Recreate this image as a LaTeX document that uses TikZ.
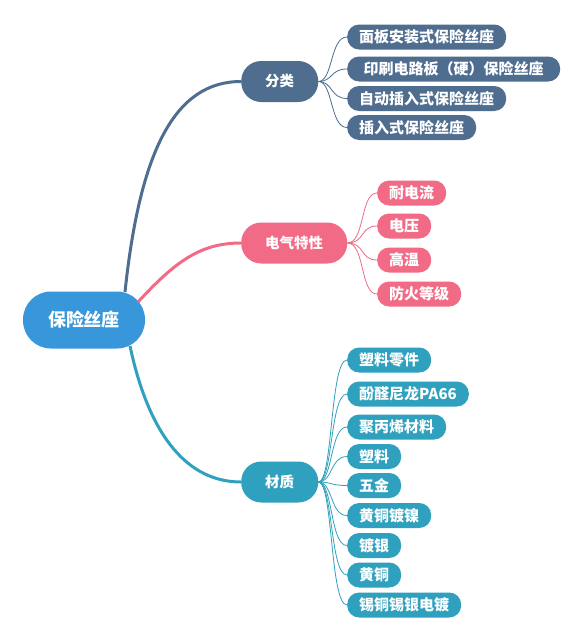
\documentclass[tikz,border=0pt]{standalone}
\usepackage{fontspec}
\setmainfont{Noto Sans CJK SC}
\definecolor{rootc}{HTML}{3897DA}
\definecolor{slatec}{HTML}{4F6D8F}
\definecolor{pinkc}{HTML}{F26B86}
\definecolor{tealc}{HTML}{2FA1BF}
\begin{document}
\begin{tikzpicture}[x=1pt,y=-1pt,
  base/.style={text=white, inner sep=0pt, font=\bfseries\fontsize{15}{15}\selectfont},
  rootnode/.style={base, fill=rootc, rounded corners=28pt, minimum width=122pt, minimum height=57pt, font=\bfseries\fontsize{18}{18}\selectfont},
  midnode/.style={base, rounded corners=20pt, minimum height=41pt, inner xsep=24pt, anchor=west, font=\bfseries\fontsize{14.5}{14.5}\selectfont},
  leaf/.style={base, rounded corners=12pt, minimum height=25pt, inner xsep=12pt, anchor=west},
  trunk/.style={line width=3pt},
  twig/.style={line width=0.8pt}
]
\useasboundingbox[fill=white] (0,0) rectangle (580,638);

\node[rootnode] (root) at (84,320) {保险丝座};

\node[midnode, fill=slatec] (fl) at (241,81.5) {分类};
\node[midnode, fill=pinkc] (dq) at (241,243) {电气特性};
\node[midnode, fill=tealc] (cz) at (241,482) {材质};

% trunks
\coordinate (rs) at (125,292);
\coordinate (rp) at (138,302);
\coordinate (rt) at (130,346);
\draw[trunk, slatec] (rs) .. controls (140,150) and (175,81.5) .. (fl.west);
\draw[trunk, pinkc] (rp) .. controls (175,262) and (200,243) .. (dq.west);
\draw[trunk, tealc] (rt) .. controls (150,440) and (190,482) .. (cz.west);

% 分类 leaves
\foreach \n/\y/\t/\w in {a1/37/面板安装式保险丝座/0, a2/69/印刷电路板（硬）保险丝座/213, a3/98.5/自动插入式保险丝座/0, a4/127.5/插入式保险丝座/0}{
  \node[leaf, fill=slatec, minimum width=\w pt] (\n) at (347,\y) {\t};
  \draw[twig, slatec] (fl.east) .. controls (333,81.5) and (330,\y) .. (\n.west);
}
% 电气特性 leaves
\foreach \n/\y/\t in {b1/193/耐电流, b2/226/电压, b3/260/高温, b4/294/防火等级}{
  \node[leaf, fill=pinkc] (\n) at (377,\y) {\t};
  \draw[twig, pinkc] (dq.east) .. controls (365,243) and (360,\y) .. (\n.west);
}
% 材质 leaves
\foreach \n/\y/\t/\w in {c1/360/塑料零件/0, c2/394/酚醛尼龙PA66/121, c3/427/聚丙烯材料/0, c4/456.5/塑料/0, c5/485.5/五金/0, c6/515.5/黄铜镀镍/0, c7/545.5/镀银/0, c8/575/黄铜/0, c9/605/锡铜锡银电镀/0}{
  \node[leaf, fill=tealc, minimum width=\w pt] (\n) at (347,\y) {\t};
  \draw[twig, tealc] (cz.east) .. controls (333,482) and (330,\y) .. (\n.west);
}
\end{tikzpicture}
\end{document}
